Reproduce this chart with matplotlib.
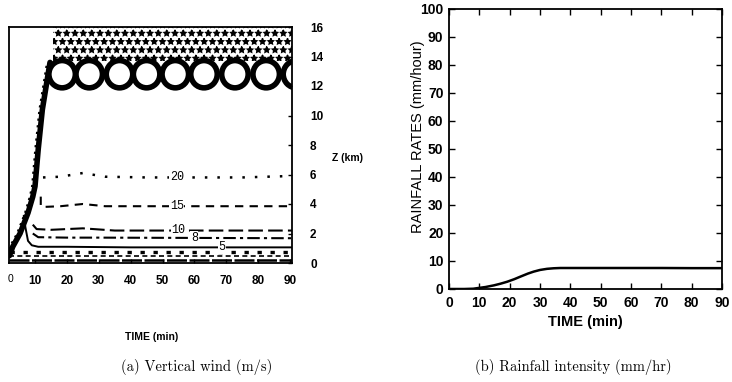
import matplotlib
matplotlib.use('Agg')
import matplotlib.pyplot as plt
from matplotlib.patches import Ellipse

# ---------------- data ----------------
# (a) vertical wind contours: time (min) vs height (km)
wall_t = [2.0, 3.0, 5.3, 7.8, 9.3, 10.0, 11.0, 12.3, 13.8, 14.7]
wall_z = [0.5, 1.1, 2.0, 3.4, 4.5, 5.2, 7.7, 10.4, 12.4, 13.6]

c20_t = [12.5, 18, 25, 32, 45, 60, 75, 90.6]
c20_z = [5.8, 5.85, 6.1, 5.85, 5.8, 5.8, 5.8, 5.9]
c15_t = [11.8, 11.8, 12.5, 18, 25, 32, 45, 90.6]
c15_z = [4.5, 3.85, 3.8, 3.85, 4.0, 3.85, 3.85, 3.85]
c10_t = [9.3, 10.5, 15, 25, 35, 90.6]
c10_z = [2.6, 2.3, 2.25, 2.35, 2.2, 2.2]
c8_t = [9.3, 11, 20, 30, 90.6]
c8_z = [2.0, 1.75, 1.72, 1.72, 1.68]
c5_t = [6.5, 7.0, 7.8, 9.0, 11, 20, 40, 90.6]
c5_z = [3.2, 2.4, 1.5, 1.2, 1.1, 1.1, 1.06, 1.06]
neg_a_t = [2.0, 90.6]
neg_a_z = [0.75, 0.75]
neg_b_t = [1.9, 90.6]
neg_b_z = [0.47, 0.47]
neg_c_t = [1.9, 90.6]
neg_c_z = [0.2, 0.2]

level_labels = ["20", "15", "10", "8", "5"]
label_t = [54.5, 54.5, 55, 60, 68.6]
label_z = [5.83, 3.86, 2.24, 1.72, 1.08]

loop_t = [18.5, 27, 36.5, 45, 54, 63, 72.7, 82.5, 92]
loop_z = 12.8

noise_t = [15.5, 90.6]
noise_lo = [13.7, 13.7]
noise_hi = [16, 16]

xticksL = [10, 20, 30, 40, 50, 60, 70, 80, 90]
yticksL = [0, 2, 4, 6, 8, 10, 12, 14, 16]

# (b) rainfall intensity
rain_t = [0, 5, 8, 9.3, 12, 14.8, 17, 19.2, 21.5, 23.5, 26, 27.9, 30, 32.3, 34.5, 36.7, 40, 50, 60, 70, 80, 90]
rain_v = [0, 0, 0.1, 0.3, 0.7, 1.3, 1.9, 2.6, 3.5, 4.4, 5.5, 6.2, 6.8, 7.2, 7.4, 7.5, 7.5, 7.5, 7.5, 7.5, 7.45, 7.45]
xticksR = [0, 10, 20, 30, 40, 50, 60, 70, 80, 90]
yticksR = [0, 10, 20, 30, 40, 50, 60, 70, 80, 90, 100]

# ---------------- figure ----------------
W, H = 732, 382
plt.rcParams['hatch.linewidth'] = 1.0
fig = plt.figure(figsize=(W / 100, H / 100), dpi=100)


def rect(x0, y0, x1, y1):
    return [x0 / W, 1 - y1 / H, (x1 - x0) / W, (y1 - y0) / H]


def ftext(x, y, s, **kw):
    fig.text(x / W, 1 - y / H, s, ha='center', va='center', **kw)


sans = 'Liberation Sans'

# ---- left panel ----
axL = fig.add_axes(rect(9, 27, 292, 263))
axL.set_xlim(1.84, 90.6)
axL.set_ylim(0, 16)
for sp in axL.spines.values():
    sp.set_linewidth(1.3)

axL.fill_between(noise_t, noise_lo, noise_hi, facecolor='none', edgecolor='black',
                 hatch='**', linewidth=0)
for c in loop_t:
    axL.add_patch(Ellipse((c, loop_z), width=8.3, height=1.85, fill=False,
                          edgecolor='black', linewidth=4.0))

axL.plot(wall_t, wall_z, color='black', lw=4.0, solid_capstyle='round')
axL.plot([t - 0.9 for t in wall_t], wall_z, color='black', lw=1.6, ls=(0, (1, 2)))

axL.plot(c20_t, c20_z, color='black', lw=1.8, ls=(0, (1, 4)))
axL.plot(c15_t, c15_z, color='black', lw=1.5, ls=(0, (4, 3)))
axL.plot(c10_t, c10_z, color='black', lw=1.5, ls=(0, (7, 2.5)))
axL.plot(c8_t, c8_z, color='black', lw=1.5, ls=(0, (6, 2, 1.5, 2)))
axL.plot(c5_t, c5_z, color='black', lw=1.4)
axL.plot(neg_a_t, neg_a_z, color='black', lw=2.4, ls=(0, (1.3, 2.6)))
axL.plot(neg_b_t, neg_b_z, color='black', lw=1.2, ls=(0, (3, 2)))
axL.plot(neg_c_t, neg_c_z, color='black', lw=1.8, ls=(0, (8, 1)))

for s, t, z in zip(level_labels, label_t, label_z):
    axL.text(t, z, s, ha='center', va='center', fontsize=8.5, family='Liberation Mono',
             bbox=dict(facecolor='white', edgecolor='none', pad=0.3))

axL.set_xticks(xticksL)
axL.set_xticklabels([str(v) for v in xticksL])
axL.set_yticks(yticksL)
axL.set_yticklabels([str(v) for v in yticksL])
axL.tick_params(axis='x', direction='in', length=3, width=1, pad=9,
                labelsize=8.5)
axL.tick_params(axis='y', direction='in', length=3, width=1, pad=13,
                left=False, labelleft=False, right=True, labelright=True, labelsize=8.5)
for lab in axL.get_xticklabels() + axL.get_yticklabels():
    lab.set_fontfamily(sans)
    lab.set_fontweight('bold')
ftext(10, 279, '0', fontsize=7.5, family=sans)
ftext(348, 158, 'Z (km)', fontsize=7.5, family=sans, fontweight='bold')
ftext(152, 337, 'TIME (min)', fontsize=7.5, family=sans, fontweight='bold')

# ---- right panel ----
axR = fig.add_axes(rect(449, 9, 722, 289))
axR.set_xlim(0, 90)
axR.set_ylim(0, 100)
for sp in axR.spines.values():
    sp.set_linewidth(1.3)
axR.plot(rain_t, rain_v, color='black', lw=1.8)
axR.set_xticks(xticksR)
axR.set_xticklabels([str(v) for v in xticksR])
axR.set_yticks(yticksR)
axR.set_yticklabels([str(v) for v in yticksR])
axR.tick_params(direction='in', length=4, width=1, top=True, right=True,
                labelsize=10)
axR.tick_params(axis='x', pad=5)
axR.tick_params(axis='y', pad=4)
for lab in axR.get_xticklabels() + axR.get_yticklabels():
    lab.set_fontfamily(sans)
    lab.set_fontweight('bold')
ftext(418, 137, 'RAINFALL RATES (mm/hour)', fontsize=10.5, family=sans, rotation=90)
ftext(585, 322, 'TIME (min)', fontsize=10.5, family=sans, fontweight='bold')

# captions
ftext(197, 367, '(a) Vertical wind (m/s)', fontsize=10.5, family='cmr10')
ftext(573, 367, '(b) Rainfall intensity (mm/hr)', fontsize=10.5, family='cmr10')

fig.savefig('out.png', dpi=100)
